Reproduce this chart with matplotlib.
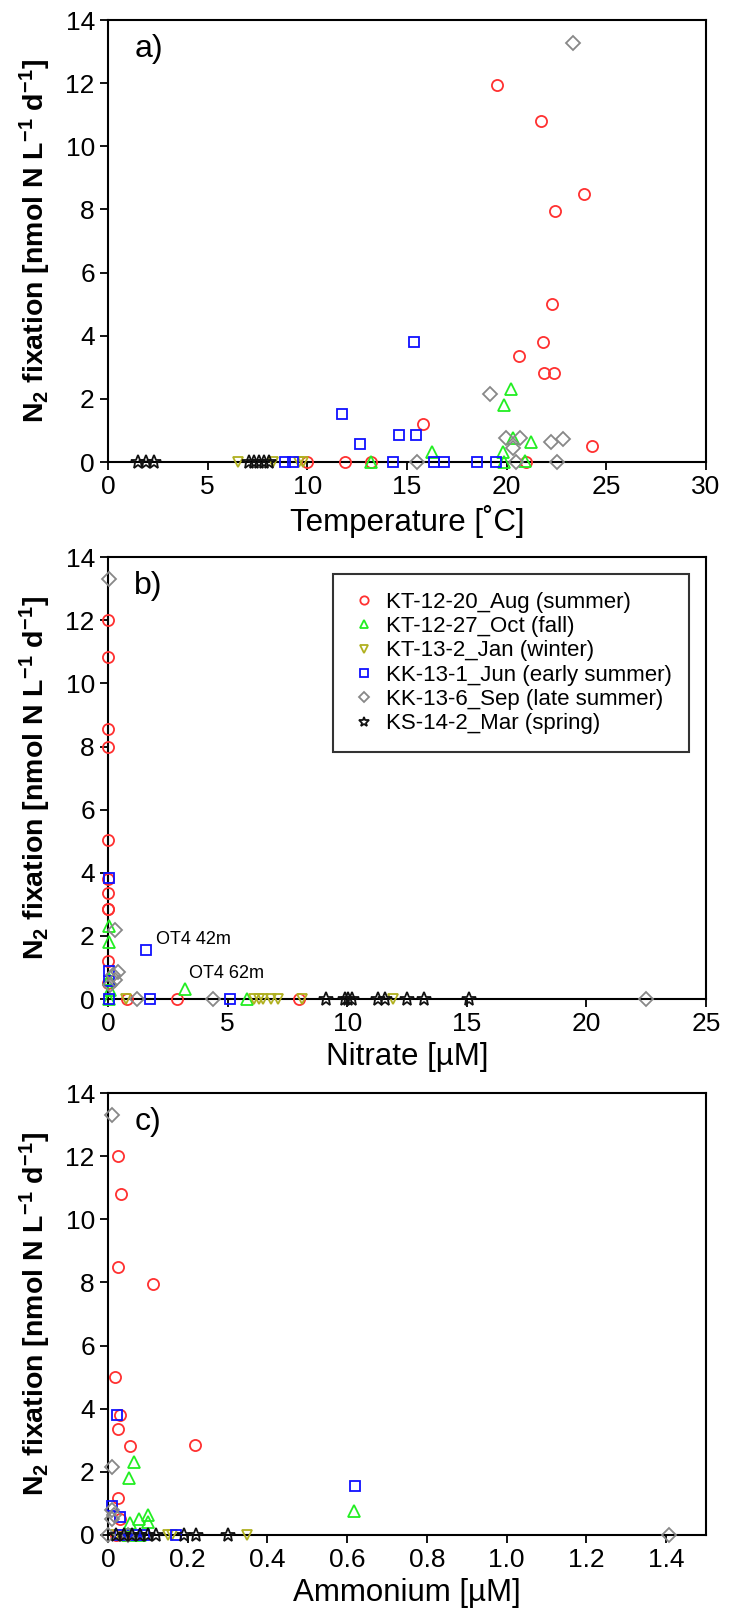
import numpy as np
import matplotlib
matplotlib.use("Agg")
import matplotlib.pyplot as plt
from matplotlib.ticker import FuncFormatter

plt.rcParams['font.family'] = ['Liberation Sans', 'DejaVu Sans']
plt.rcParams['mathtext.fontset'] = 'custom'
plt.rcParams['mathtext.rm'] = 'Liberation Sans'
plt.rcParams['mathtext.bf'] = 'Liberation Sans:bold'
plt.rcParams['mathtext.default'] = 'regular'

# cruises (legend order)
cruises = ['KT-12-20_Aug (summer)', 'KT-12-27_Oct (fall)', 'KT-13-2_Jan (winter)',
           'KK-13-1_Jun (early summer)', 'KK-13-6_Sep (late summer)', 'KS-14-2_Mar (spring)']

# a) temperature [deg C] vs N2 fixation
temp_aug = [19.5, 21.7, 23.9, 22.45, 22.3, 21.8, 20.6, 21.9, 22.4, 15.8, 24.3, 10.0, 11.9, 13.2, 20.95]
n2_aug_a = [11.95, 10.8, 8.5, 7.95, 5.0, 3.8, 3.35, 2.83, 2.83, 1.2, 0.5, 0, 0, 0, 0]
temp_oct = [20.2, 19.85, 16.25, 21.2, 20.3, 19.8, 19.85, 20.9, 13.2]
n2_oct_a = [2.3, 1.8, 0.32, 0.62, 0.76, 0.32, 0, 0.03, 0]
temp_jan = [6.5, 8.3, 9.6, 9.8]
n2_jan_a = [0, 0, 0, 0]
temp_jun = [15.35, 11.75, 12.65, 14.6, 15.45, 8.9, 9.3, 14.3, 16.35, 16.85, 18.5, 19.45]
n2_jun_a = [3.8, 1.53, 0.58, 0.87, 0.87, 0, 0, 0, 0, 0, 0, 0]
temp_sep = [23.35, 19.15, 19.95, 20.65, 20.3, 22.25, 22.85, 15.5, 20.45, 22.55]
n2_sep_a = [13.27, 2.17, 0.77, 0.77, 0.45, 0.62, 0.74, 0, 0, 0]
temp_mar = [1.5, 1.9, 2.3, 7.1, 7.35, 7.6, 7.85, 8.1]
n2_mar_a = [0, 0, 0, 0, 0, 0, 0, 0]

# b) nitrate [uM]
no3_aug = [0, 0, 0, 0, 0, 0, 0, 0, 0, 0, 0, 0.8, 2.9, 8.0]
n2_aug_b = [12.0, 10.85, 8.55, 8.0, 5.05, 3.8, 3.35, 2.85, 2.85, 1.2, 0.5, 0, 0, 0]
no3_oct = [0.05, 0.05, 3.2, 0.05, 0.1, 0.05, 5.8]
n2_oct_b = [2.3, 1.8, 0.33, 0.62, 0.3, 0, 0]
no3_jan = [0.75, 6.1, 6.3, 6.5, 6.8, 7.1, 8.1, 11.9]
n2_jan_b = [0, 0, 0, 0, 0, 0, 0, 0]
no3_jun = [0.05, 1.6, 0.05, 0.05, 0.05, 1.75, 5.1]
n2_jun_b = [3.85, 1.56, 0.9, 0.58, 0, 0, 0]
no3_sep = [0.05, 0.3, 0.4, 0.2, 0.3, 0.1, 1.2, 4.4, 22.5]
n2_sep_b = [13.3, 2.2, 0.85, 0.75, 0.6, 0.45, 0, 0, 0]
no3_mar = [9.1, 9.9, 10.05, 10.2, 11.3, 11.6, 12.5, 13.2, 15.1]
n2_mar_b = [0, 0, 0, 0, 0, 0, 0, 0, 0]

# c) ammonium [uM]
nh4_aug = [0.024, 0.033, 0.024, 0.113, 0.018, 0.03, 0.026, 0.056, 0.218, 0.026, 0.03, 0.02, 0.04]
n2_aug_c = [12.0, 10.8, 8.5, 7.95, 5.0, 3.8, 3.35, 2.83, 2.84, 1.17, 0.5, 0, 0]
nh4_oct = [0.065, 0.053, 0.616, 0.056, 0.078, 0.1, 0.1, 0.05, 0.08]
n2_oct_c = [2.3, 1.81, 0.77, 0.38, 0.51, 0.64, 0.4, 0, 0]
nh4_jan = [0.02, 0.15, 0.16, 0.35]
n2_jan_c = [0, 0, 0, 0]
nh4_jun = [0.023, 0.62, 0.01, 0.031, 0.03, 0.05, 0.07, 0.09, 0.17]
n2_jun_c = [3.8, 1.54, 0.91, 0.57, 0, 0, 0, 0, 0]
nh4_sep = [0.009, 0.011, 0.011, 0.011, 0.015, 0.0, 0.05, 1.408]
n2_sep_c = [13.3, 2.16, 0.8, 0.49, 0.62, 0, 0, 0]
nh4_mar = [0.02, 0.04, 0.06, 0.08, 0.1, 0.12, 0.19, 0.22, 0.3]
n2_mar_c = [0, 0, 0, 0, 0, 0, 0, 0, 0]

colors = ['#ff3030', '#22ee22', '#b0b020', '#1010ff', '#888888', '#111111']
markers = ['o', '^', 'v', 's', 'D', '*']
sizes = [8, 8, 7, 7.5, 7, 10]

fig = plt.figure(figsize=(7.41, 16.2), dpi=100)
left, width, height = 0.1457, 0.807, 0.2728
bottoms = [0.7148, 0.3833, 0.0525]

panels = [
    ([temp_aug, temp_oct, temp_jan, temp_jun, temp_sep, temp_mar],
     [n2_aug_a, n2_oct_a, n2_jan_a, n2_jun_a, n2_sep_a, n2_mar_a],
     'Temperature [˚C]', (0, 30), [0, 5, 10, 15, 20, 25, 30], 'a)'),
    ([no3_aug, no3_oct, no3_jan, no3_jun, no3_sep, no3_mar],
     [n2_aug_b, n2_oct_b, n2_jan_b, n2_jun_b, n2_sep_b, n2_mar_b],
     'Nitrate [µM]', (0, 25), [0, 5, 10, 15, 20, 25], 'b)'),
    ([nh4_aug, nh4_oct, nh4_jan, nh4_jun, nh4_sep, nh4_mar],
     [n2_aug_c, n2_oct_c, n2_jan_c, n2_jun_c, n2_sep_c, n2_mar_c],
     'Ammonium [µM]', (0, 1.5), [0, 0.2, 0.4, 0.6, 0.8, 1.0, 1.2, 1.4], 'c)'),
]

axes = []
for (xs, ys, xlabel, xlim, xticks, tag), b in zip(panels, bottoms):
    ax = fig.add_axes([left, b, width, height])
    for i in range(6):
        ax.plot(xs[i], ys[i], linestyle='none', marker=markers[i], ms=sizes[i],
                mfc='none', mec=colors[i], mew=1.3, clip_on=False, label=cruises[i], zorder=3)
    ax.set_xlim(*xlim)
    ax.set_ylim(0, 14)
    ax.set_xticks(xticks)
    ax.set_yticks(range(0, 15, 2))
    ax.tick_params(direction='out', length=6, width=1.3, labelsize=19, top=False, right=False)
    for s in ax.spines.values():
        s.set_linewidth(1.5)
    ax.set_xlabel(xlabel, fontsize=22.5, labelpad=4)
    ax.set_ylabel(r'N$_2$ fixation [nmol N L$^{-1}$ d$^{-1}$]', fontsize=20.5,
                  fontweight='bold')
    ax.yaxis.set_label_coords(-0.092, 0.5)
    ax.text(0.044, 0.935, tag, transform=ax.transAxes, fontsize=23, va='center', ha='left')
    axes.append(ax)

axes[2].xaxis.set_major_formatter(FuncFormatter(lambda v, p: '0' if v == 0 else f'{v:.1f}'))

leg = axes[1].legend(loc='upper right', bbox_to_anchor=(0.972, 0.962), borderaxespad=0,
                     fontsize=16, frameon=True, fancybox=False, edgecolor='black',
                     markerscale=0.75, handletextpad=0.35, labelspacing=0.15,
                     borderpad=0.8, handlelength=1.2)
leg.get_frame().set_linewidth(1.5)

axes[1].text(2.0, 1.88, 'OT4 42m', fontsize=13, va='center')
axes[1].text(3.4, 0.82, 'OT4 62m', fontsize=13, va='center')

fig.savefig('out.png', dpi=100)
